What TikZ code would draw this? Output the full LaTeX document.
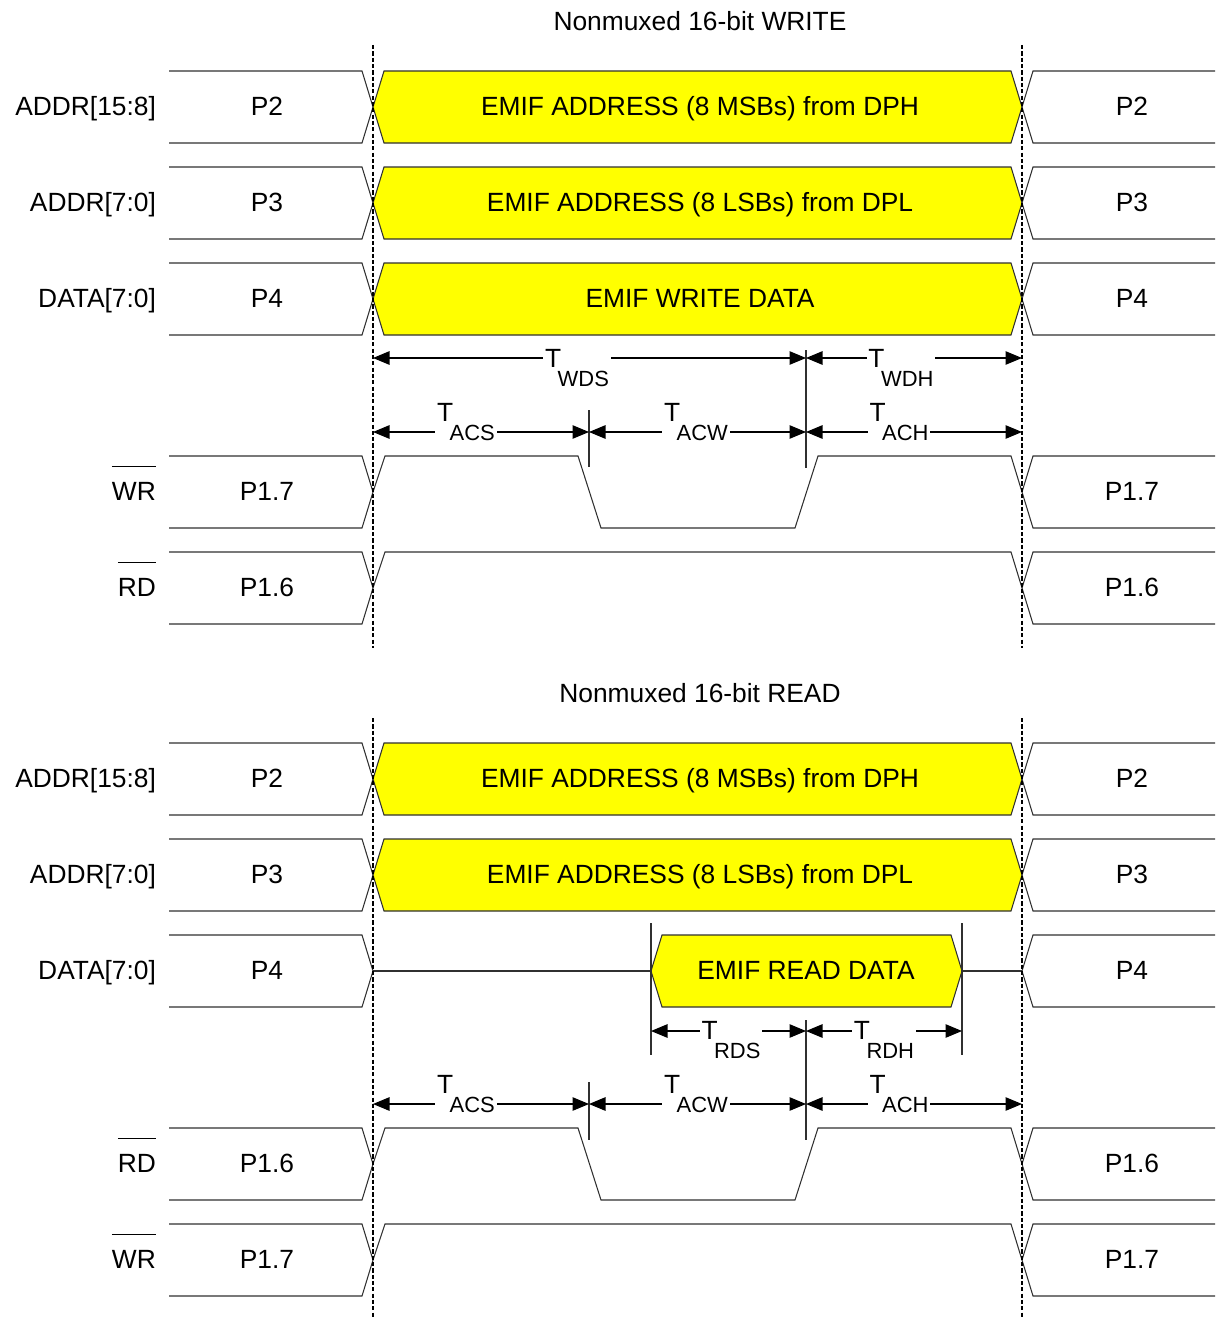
\documentclass[tikz,border=0pt]{standalone}
\usepackage{fontspec}
\setmainfont{Liberation Sans}
\usetikzlibrary{arrows.meta}
\definecolor{busyellow}{HTML}{FFFF00}
\definecolor{wire}{HTML}{303030}

% bus segment closed on both sides, open on the left, open on the right
\newcommand{\bushex}[4][]{\draw[wave,#1] (#2,#4) -- (#2+11,#4-36) -- (#3-11,#4-36) -- (#3,#4) -- (#3-11,#4+36) -- (#2+11,#4+36) -- cycle;}
\newcommand{\busleft}[1]{\draw[wave] (169,#1-36) -- (362,#1-36) -- (373,#1) -- (362,#1+36) -- (169,#1+36);}
\newcommand{\busright}[1]{\draw[wave] (1215,#1-36) -- (1033,#1-36) -- (1022,#1) -- (1033,#1+36) -- (1215,#1+36);}
\newcommand{\tsub}[1]{T\kern-2pt\raisebox{-11pt}{\fontsize{12.5}{14}\selectfont #1}}
\newcommand{\ovl}[1]{$\overline{\hbox{\raisebox{0pt}[18pt]{#1}}}$}

\begin{document}
\begin{tikzpicture}[
  x=0.02cm, y=-0.02cm,
  every node/.style={font=\fontsize{15}{18}\selectfont, inner sep=1pt},
  wave/.style={draw=wire, line width=0.6pt},
  markline/.style={line width=1.5pt, dash pattern=on 2.4pt off 1.2pt},
  tick/.style={draw=wire, line width=0.6pt},
  dim/.style={{Triangle[length=3.3mm,width=2.7mm]}-{Triangle[length=3.3mm,width=2.7mm]}, line width=0.6pt},
  tlab/.style={fill=white, anchor=base},
  sname/.style={anchor=base east},
  sval/.style={anchor=base},
]
  \useasboundingbox (0,0) rectangle (1215,1318);

  % Edge times
  \coordinate (tA) at (373,0);
  \coordinate (tB) at (589,0);
  \coordinate (tC) at (806,0);
  \coordinate (tD) at (1022,0);
  \coordinate (tE) at (651,0);
  \coordinate (tF) at (962,0);

  %%%% Write cycle
  \node (wtitle) at (700,21) {Nonmuxed 16-bit WRITE};

  % ADDR[15:8]
  \busleft{107}
  \bushex[fill=busyellow]{373}{1022}{107}
  \busright{107}
  \node[sname] (wa1n) at (158,115) {ADDR[15:8]};
  \node[sval] (wa1l) at (267,115) {P2};
  \node[sval] (wa1m) at (700,115) {EMIF ADDRESS (8 MSBs) from DPH};
  \node[sval] (wa1r) at (1132,115) {P2};

  % ADDR[7:0]
  \busleft{203}
  \bushex[fill=busyellow]{373}{1022}{203}
  \busright{203}
  \node[sname] (wa0n) at (158,211) {ADDR[7:0]};
  \node[sval] (wa0l) at (267,211) {P3};
  \node[sval] (wa0m) at (700,211) {EMIF ADDRESS (8 LSBs) from DPL};
  \node[sval] (wa0r) at (1132,211) {P3};

  % DATA[7:0]
  \busleft{299}
  \bushex[fill=busyellow]{373}{1022}{299}
  \busright{299}
  \node[sname] (wdn) at (158,307) {DATA[7:0]};
  \node[sval] (wdl) at (267,307) {P4};
  \node[sval] (wdm) at (700,307) {EMIF WRITE DATA};
  \node[sval] (wdr) at (1132,307) {P4};

  % Timing
  \coordinate (wy1) at (0,358);
  \coordinate (wy2) at (0,432);
  \draw[tick] (tB |- 0,410) -- (tB |- 0,467);
  \draw[tick] (tC |- 0,350) -- (tC |- 0,468);
  \draw[dim] (tA |- wy1) -- (tC |- wy1);
  \draw[dim] (tC |- wy1) -- (tD |- wy1);
  \draw[dim] (tA |- wy2) -- (tB |- wy2);
  \draw[dim] (tB |- wy2) -- (tC |- wy2);
  \draw[dim] (tC |- wy2) -- (tD |- wy2);
  \node[tlab] (wwds) at (577,367) {\tsub{WDS}};
  \node[tlab] (wwdh) at (901,367) {\tsub{WDH}};
  \node[tlab] (wacs) at (466,421) {\tsub{ACS}};
  \node[tlab] (wacw) at (696,421) {\tsub{ACW}};
  \node[tlab] (wach) at (899,421) {\tsub{ACH}};

  % WR strobe
  \busleft{492}
  \draw[wave] (373,492) -- (385,456) -- (578,456) -- (601,528) -- (795,528) -- (818,456) -- (1011,456) -- (1022,492);
  \busright{492}
  \node[sname] (wwrn) at (158,500) {\ovl{WR}};
  \node[sval] (wwrl) at (267,500) {P1.7};
  \node[sval] (wwrr) at (1132,500) {P1.7};

  % RD strobe
  \busleft{588}
  \draw[wave] (373,588) -- (385,552) -- (1011,552) -- (1022,588);
  \busright{588}
  \node[sname] (wrdn) at (158,596) {\ovl{RD}};
  \node[sval] (wrdl) at (267,596) {P1.6};
  \node[sval] (wrdr) at (1132,596) {P1.6};

  \draw[markline] (tA |- 0,45) -- (tA |- 0,648);
  \draw[markline] (tD |- 0,45) -- (tD |- 0,648);

  %%%% Read cycle
  \node (rtitle) at (700,693) {Nonmuxed 16-bit READ};

  % ADDR[15:8]
  \busleft{779}
  \bushex[fill=busyellow]{373}{1022}{779}
  \busright{779}
  \node[sname] (ra1n) at (158,787) {ADDR[15:8]};
  \node[sval] (ra1l) at (267,787) {P2};
  \node[sval] (ra1m) at (700,787) {EMIF ADDRESS (8 MSBs) from DPH};
  \node[sval] (ra1r) at (1132,787) {P2};

  % ADDR[7:0]
  \busleft{875}
  \bushex[fill=busyellow]{373}{1022}{875}
  \busright{875}
  \node[sname] (ra0n) at (158,883) {ADDR[7:0]};
  \node[sval] (ra0l) at (267,883) {P3};
  \node[sval] (ra0m) at (700,883) {EMIF ADDRESS (8 LSBs) from DPL};
  \node[sval] (ra0r) at (1132,883) {P3};

  % DATA[7:0]
  \busleft{971}
  \draw[wave] (373,971) -- (651,971);
  \bushex[fill=busyellow]{651}{962}{971}
  \draw[wave] (962,971) -- (1022,971);
  \busright{971}
  \node[sname] (rdn) at (158,979) {DATA[7:0]};
  \node[sval] (rdl) at (267,979) {P4};
  \node[sval] (rdm) at (806,979) {EMIF READ DATA};
  \node[sval] (rdr) at (1132,979) {P4};

  % Timing
  \coordinate (ry1) at (0,1031);
  \coordinate (ry2) at (0,1104);
  \draw[tick] (tE |- 0,923) -- (tE |- 0,1055);
  \draw[tick] (tF |- 0,923) -- (tF |- 0,1055);
  \draw[tick] (tC |- 0,1020) -- (tC |- 0,1140);
  \draw[tick] (tB |- 0,1082) -- (tB |- 0,1140);
  \draw[dim] (tE |- ry1) -- (tC |- ry1);
  \draw[dim] (tC |- ry1) -- (tF |- ry1);
  \draw[dim] (tA |- ry2) -- (tB |- ry2);
  \draw[dim] (tB |- ry2) -- (tC |- ry2);
  \draw[dim] (tC |- ry2) -- (tD |- ry2);
  \node[tlab] (rrds) at (731,1039) {\tsub{RDS}};
  \node[tlab] (rrdh) at (884,1039) {\tsub{RDH}};
  \node[tlab] (racs) at (466,1093) {\tsub{ACS}};
  \node[tlab] (racw) at (696,1093) {\tsub{ACW}};
  \node[tlab] (rach) at (899,1093) {\tsub{ACH}};

  % RD strobe
  \busleft{1164}
  \draw[wave] (373,1164) -- (385,1128) -- (578,1128) -- (601,1200) -- (795,1200) -- (818,1128) -- (1011,1128) -- (1022,1164);
  \busright{1164}
  \node[sname] (rrdn) at (158,1172) {\ovl{RD}};
  \node[sval] (rrdl) at (267,1172) {P1.6};
  \node[sval] (rrdr) at (1132,1172) {P1.6};

  % WR strobe
  \busleft{1260}
  \draw[wave] (373,1260) -- (385,1224) -- (1011,1224) -- (1022,1260);
  \busright{1260}
  \node[sname] (rwrn) at (158,1268) {\ovl{WR}};
  \node[sval] (rwrl) at (267,1268) {P1.7};
  \node[sval] (rwrr) at (1132,1268) {P1.7};

  \draw[markline] (tA |- 0,718) -- (tA |- 0,1318);
  \draw[markline] (tD |- 0,718) -- (tD |- 0,1318);
\end{tikzpicture}
\end{document}
